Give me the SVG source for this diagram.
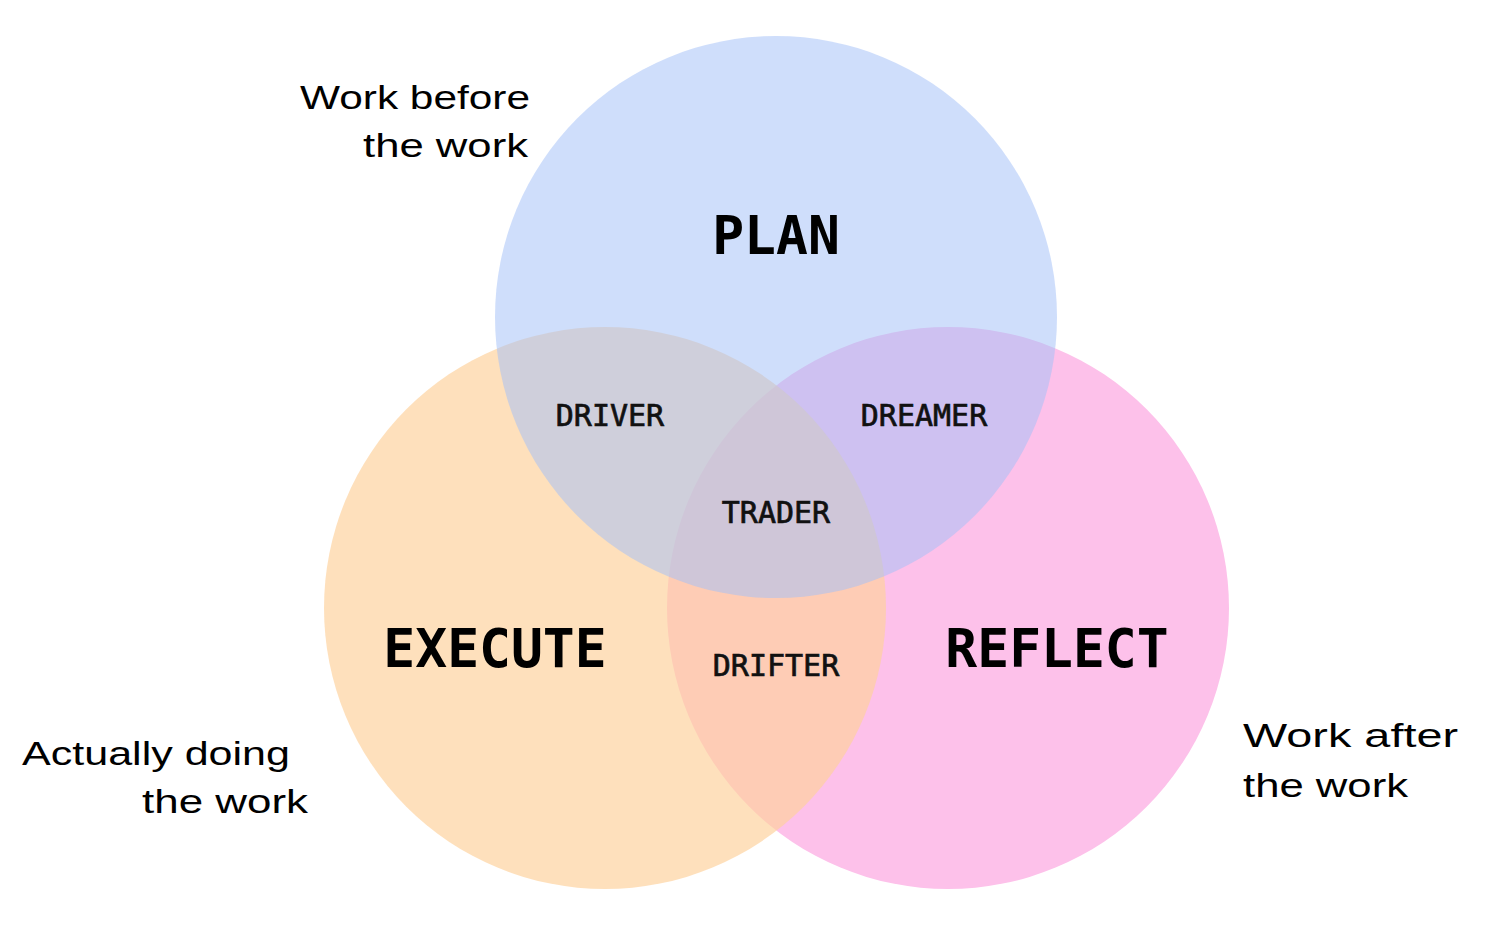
<svg xmlns="http://www.w3.org/2000/svg" width="1498" height="930" viewBox="0 0 1498 930">
<style>
.big{font-family:"DejaVu Sans Mono","Liberation Mono",monospace;font-weight:bold;font-size:53px;fill:#000;text-anchor:middle}
.sm{font-family:"DejaVu Sans Mono","Liberation Mono",monospace;font-size:30px;fill:#111;stroke:#111;stroke-width:0.7px;text-anchor:middle}
.hw{font-family:"Liberation Sans",sans-serif;font-size:33px;fill:#000}
</style>
<rect width="1498" height="930" fill="#fff"/>
<g id="reflect"><circle cx="948" cy="608" r="281" fill="#fdc1ea"/></g>
<g id="execute"><circle cx="605" cy="608" r="281" fill="#fdd19c" fill-opacity="0.68"/></g>
<g id="plan"><circle cx="776" cy="317" r="281" fill="#a4c1f7" fill-opacity="0.53"/></g>
<g id="labels">
<text class="big" x="776" y="254">PLAN</text>
<text class="big" x="495" y="667">EXECUTE</text>
<text class="big" x="1057" y="667">REFLECT</text>
<text class="sm" x="610" y="426">DRIVER</text>
<text class="sm" x="924" y="426">DREAMER</text>
<text class="sm" x="776" y="523">TRADER</text>
<text class="sm" x="776" y="676">DRIFTER</text>
</g>
<g id="notes">
<text class="hw" x="300" y="109" textLength="230" lengthAdjust="spacingAndGlyphs">Work before</text>
<text class="hw" x="363" y="157" textLength="165" lengthAdjust="spacingAndGlyphs">the work</text>
<text class="hw" x="22" y="765" textLength="268" lengthAdjust="spacingAndGlyphs">Actually doing</text>
<text class="hw" x="142" y="813" textLength="166" lengthAdjust="spacingAndGlyphs">the work</text>
<text class="hw" x="1243" y="747" textLength="215" lengthAdjust="spacingAndGlyphs">Work after</text>
<text class="hw" x="1243" y="797" textLength="165" lengthAdjust="spacingAndGlyphs">the work</text>
</g>
</svg>
